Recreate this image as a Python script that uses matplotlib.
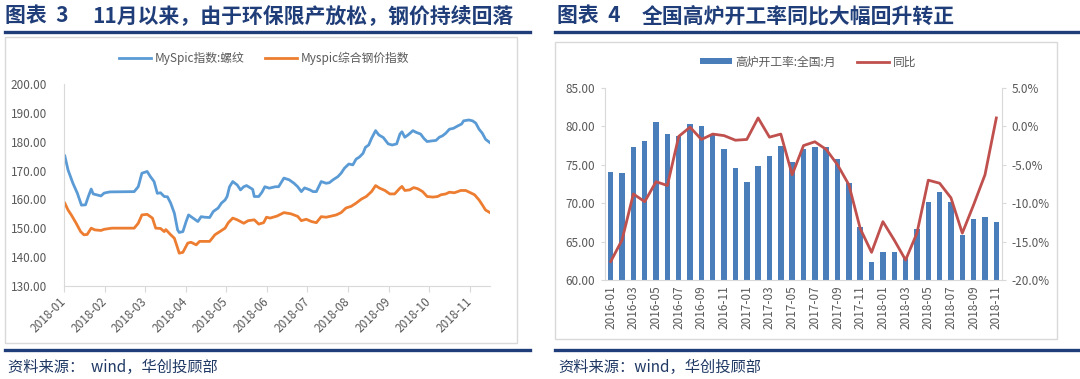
import matplotlib
matplotlib.use('Agg')
import matplotlib.pyplot as plt
from matplotlib.lines import Line2D
from matplotlib.patches import Rectangle
from matplotlib.ticker import FormatStrFormatter
import numpy as np

plt.rcParams['font.family'] = ['Noto Sans CJK SC', 'DejaVu Sans']

# ---------------- data ----------------
months_2018 = ['2018-01', '2018-02', '2018-03', '2018-04', '2018-05', '2018-06',
               '2018-07', '2018-08', '2018-09', '2018-10', '2018-11']

# x = position in months from 2018-01 tick (0 = 2018-01, 1 = 2018-02, ...)
rebar_x = [0.02, 0.10, 0.22, 0.33, 0.43, 0.53, 0.60, 0.67, 0.72, 0.91, 0.99, 1.13, 1.73, 1.83,
           1.92, 2.05, 2.13, 2.22, 2.30, 2.38, 2.47, 2.55, 2.63, 2.72, 2.80, 2.84, 2.93, 3.01,
           3.07, 3.18, 3.30, 3.38, 3.47, 3.59, 3.68, 3.80, 3.88, 3.97, 4.02, 4.08, 4.16, 4.27,
           4.35, 4.43, 4.50, 4.65, 4.69, 4.80, 4.88, 4.95, 5.06, 5.21, 5.29, 5.42, 5.55, 5.67,
           5.76, 5.85, 5.93, 6.06, 6.14, 6.22, 6.34, 6.46, 6.54, 6.63, 6.75, 6.83, 6.91, 7.02,
           7.12, 7.20, 7.28, 7.37, 7.43, 7.51, 7.58, 7.68, 7.76, 7.87, 7.99, 8.09, 8.20, 8.28,
           8.33, 8.40, 8.48, 8.60, 8.68, 8.79, 8.87, 8.95, 9.05, 9.17, 9.25, 9.33, 9.41, 9.50,
           9.60, 9.70, 9.80, 9.85, 9.98, 10.07, 10.15, 10.23, 10.31, 10.39, 10.50]
rebar_v = [175.1, 170.2, 165.6, 162.1, 158.0, 158.1, 161.0, 163.6, 161.9, 161.2, 162.2, 162.6, 162.7, 164.4,
           169.1, 169.7, 167.9, 166.2, 162.1, 162.3, 161.0, 160.9, 158.7, 155.2, 149.4, 148.5, 148.8, 152.3,
           154.6, 153.5, 152.3, 154.0, 153.8, 153.7, 155.8, 157.0, 158.7, 159.8, 161.0, 164.4, 166.2, 165.0,
           163.3, 164.4, 164.8, 163.5, 161.0, 161.0, 162.5, 164.4, 163.9, 164.4, 164.4, 167.4, 166.8, 165.6,
           164.4, 162.7, 164.0, 163.3, 162.7, 162.7, 166.2, 165.6, 165.8, 166.8, 167.9, 169.1, 170.8, 172.3,
           172.0, 174.0, 174.7, 176.0, 178.1, 178.9, 181.2, 183.9, 182.4, 181.5, 179.3, 178.9, 179.3, 182.7,
           183.5, 181.6, 182.4, 183.9, 183.3, 182.7, 181.2, 180.1, 180.3, 180.5, 181.6, 182.1, 183.0, 184.4,
           184.7, 185.5, 186.2, 187.3, 187.6, 187.3, 186.5, 184.4, 183.0, 180.9, 179.7]

comp_x = [0.02, 0.10, 0.18, 0.30, 0.41, 0.49, 0.57, 0.67, 0.76, 0.91, 0.99, 1.18, 1.73, 1.83,
          1.92, 2.05, 2.18, 2.26, 2.38, 2.47, 2.51, 2.63, 2.72, 2.80, 2.84, 2.93, 3.05, 3.13,
          3.26, 3.34, 3.59, 3.72, 3.84, 3.97, 4.05, 4.16, 4.27, 4.43, 4.54, 4.69, 4.80, 4.92,
          4.99, 5.08, 5.25, 5.42, 5.59, 5.76, 5.85, 5.97, 6.10, 6.22, 6.34, 6.46, 6.59, 6.71,
          6.83, 6.95, 7.08, 7.20, 7.33, 7.45, 7.58, 7.68, 7.78, 7.91, 8.03, 8.15, 8.28, 8.33,
          8.40, 8.52, 8.62, 8.72, 8.84, 8.95, 9.09, 9.21, 9.29, 9.41, 9.50, 9.62, 9.78, 9.90,
          10.02, 10.12, 10.23, 10.31, 10.39, 10.50]
comp_v = [158.7, 156.3, 154.6, 151.7, 148.8, 147.7, 147.8, 150.0, 149.4, 149.2, 149.6, 150.0, 150.0, 151.7,
          154.6, 154.8, 153.5, 150.0, 149.9, 148.8, 149.5, 147.7, 146.5, 143.1, 141.3, 141.6, 144.8, 145.1,
          144.2, 145.4, 145.4, 147.7, 148.8, 150.0, 151.9, 153.5, 152.9, 151.7, 152.6, 152.9, 151.4, 151.9,
          153.8, 153.5, 154.2, 155.4, 155.0, 154.1, 152.6, 153.1, 152.3, 151.9, 154.0, 153.8, 154.2, 154.6,
          155.4, 157.0, 157.6, 158.7, 160.1, 161.0, 162.7, 164.8, 163.9, 163.1, 161.9, 161.9, 163.9, 164.5,
          163.1, 163.3, 164.1, 163.7, 162.7, 161.0, 160.8, 161.0, 161.6, 161.9, 162.5, 162.3, 163.1, 163.1,
          162.3, 161.6, 159.8, 158.1, 156.3, 155.4]

bf_months = ['2016-01', '2016-02', '2016-03', '2016-04', '2016-05', '2016-06', '2016-07',
             '2016-08', '2016-09', '2016-10', '2016-11', '2016-12', '2017-01', '2017-02',
             '2017-03', '2017-04', '2017-05', '2017-06', '2017-07', '2017-08', '2017-09',
             '2017-10', '2017-11', '2017-12', '2018-01', '2018-02', '2018-03', '2018-04',
             '2018-05', '2018-06', '2018-07', '2018-08', '2018-09', '2018-10', '2018-11']
bf_rate = [74.0, 73.9, 77.3, 78.1, 80.6, 79.0, 78.8, 80.3, 80.1, 78.9, 77.0, 74.6, 72.8, 74.9,
           76.2, 77.4, 75.4, 77.1, 77.3, 77.3, 75.7, 72.6, 66.9, 62.3, 63.7, 63.6, 62.8, 66.7,
           70.2, 71.4, 70.1, 65.9, 67.9, 68.2, 67.6]
bf_yoy = [-17.6, -14.8, -8.8, -9.8, -7.2, -7.7, -1.3, -0.1, -1.7, -1.0, -1.2, -1.8, -1.7, 1.1,
          -1.4, -1.0, -6.3, -2.5, -2.0, -3.0, -5.0, -7.6, -13.3, -16.4, -12.4, -14.8, -17.4, -13.9,
          -7.0, -7.4, -9.3, -13.9, -10.2, -6.3, 1.1]

# ---------------- layout helpers ----------------
W, H = 1080, 379
fig = plt.figure(figsize=(W / 100, H / 100), dpi=100)
fig.patch.set_facecolor('white')


def fx(x):
    return x / W


def fy(y):
    return 1 - y / H


NAVY = '#1f3d78'
GREY = '#595959'
LIGHT = '#d9d9d9'

# frames
fig.add_artist(Rectangle((fx(5), fy(343)), fx(517) - fx(5), (343 - 37) / H, fill=False,
                         edgecolor=LIGHT, lw=1, transform=fig.transFigure))
fig.add_artist(Rectangle((fx(555), fy(339)), fx(1057) - fx(555), (339 - 42) / H, fill=False,
                         edgecolor=LIGHT, lw=1, transform=fig.transFigure))

# title underline and bottom lines
for (x0, x1) in [(5, 530), (555, 1078)]:
    fig.add_artist(Line2D([fx(x0), fx(x1)], [fy(32), fy(32)], color=NAVY, lw=2.4,
                          transform=fig.transFigure))
    fig.add_artist(Line2D([fx(x0), fx(x1)], [fy(350), fy(350)], color=NAVY, lw=2.4,
                          transform=fig.transFigure))

# titles
tkw = dict(fontsize=15, fontweight='bold', color=NAVY, va='center', ha='left')
fig.text(fx(5), fy(16), '图表  3', **tkw)
fig.text(fx(92), fy(16), '11月以来，由于环保限产放松，钢价持续回落', **tkw)
fig.text(fx(557), fy(16), '图表  4', **tkw)
fig.text(fx(642), fy(16), '全国高炉开工率同比大幅回升转正', **tkw)

# sources
skw = dict(fontsize=11, color='#1f3864', va='center', ha='left', style='italic')
fig.text(fx(8), fy(367), '资料来源：  wind，华创投顾部', **skw)
fig.text(fx(558), fy(367), '资料来源：wind，华创投顾部', **skw)

# ---------------- left chart ----------------
ax1 = fig.add_axes([fx(64), fy(285.7), (490 - 64) / W, (285.7 - 84.3) / H])
ax1.plot(rebar_x, rebar_v, color='#5b9bd5', lw=2, label='MySpic指数:螺纹')
ax1.plot(comp_x, comp_v, color='#ed7d31', lw=2, label='Myspic综合钢价指数')
ax1.set_xlim(0, 10.5)
ax1.set_ylim(130, 200)
ax1.set_yticks(np.arange(130, 201, 10))
ax1.yaxis.set_major_formatter(FormatStrFormatter('%.2f'))
ax1.set_xticks(range(len(months_2018)))
ax1.set_xticklabels(months_2018, rotation=45, ha='right', va='center', rotation_mode='anchor')
for s in ['top', 'right']:
    ax1.spines[s].set_visible(False)
for s in ['left', 'bottom']:
    ax1.spines[s].set_color(LIGHT)
ax1.tick_params(axis='y', length=0, pad=12, labelsize=8.5, labelcolor=GREY)
ax1.tick_params(axis='x', length=4, color=LIGHT, pad=6, labelsize=8.5, labelcolor=GREY)
ax1.legend(loc='center', bbox_to_anchor=(fx(264), fy(58)), bbox_transform=fig.transFigure,
           ncol=2, frameon=False, fontsize=8.5, labelcolor=GREY, handlelength=2.7,
           columnspacing=1.8, handletextpad=0.3)

# ---------------- right chart ----------------
ax2 = fig.add_axes([fx(605), fy(280), (1002 - 605) / W, (280 - 88) / H])
xpos = np.arange(len(bf_months))
ax2.bar(xpos, bf_rate, width=0.48, color='#4a7ebb', label='高炉开工率:全国:月')
ax2.set_xlim(-0.5, len(bf_months) - 0.5)
ax2.set_ylim(60, 85)
ax2.set_yticks(np.arange(60, 86, 5))
ax2.yaxis.set_major_formatter(FormatStrFormatter('%.2f'))
ax2.set_xticks(xpos[::2])
ax2.set_xticklabels(bf_months[::2], rotation=90)
for s in ['top', 'right']:
    ax2.spines[s].set_visible(False)
for s in ['left', 'bottom']:
    ax2.spines[s].set_color(LIGHT)
ax2.tick_params(axis='y', length=3, color=LIGHT, pad=4, labelsize=8.5, labelcolor=GREY)
ax2.tick_params(axis='x', length=0, pad=4, labelsize=8.5, labelcolor=GREY)

ax3 = ax2.twinx()
ax3.plot(xpos, bf_yoy, color='#c0504d', lw=2, label='同比')
ax3.set_ylim(-20, 5)
ax3.set_yticks(np.arange(-20, 6, 5))
ax3.yaxis.set_major_formatter(FormatStrFormatter('%.1f%%'))
for s in ['top', 'left', 'bottom']:
    ax3.spines[s].set_visible(False)
ax3.spines['right'].set_color(LIGHT)
ax3.tick_params(axis='y', length=3, color=LIGHT, pad=4, labelsize=8.5, labelcolor=GREY)

h1, l1 = ax2.get_legend_handles_labels()
h2, l2 = ax3.get_legend_handles_labels()
ax3.legend(h1 + h2, l1 + l2, loc='center', bbox_to_anchor=(fx(808), fy(62)),
           bbox_transform=fig.transFigure, ncol=2, frameon=False, fontsize=8.5,
           labelcolor=GREY, handlelength=2.7, handleheight=0.45, columnspacing=1.8,
           handletextpad=0.3)

fig.savefig('out.png', dpi=100, facecolor='white')
